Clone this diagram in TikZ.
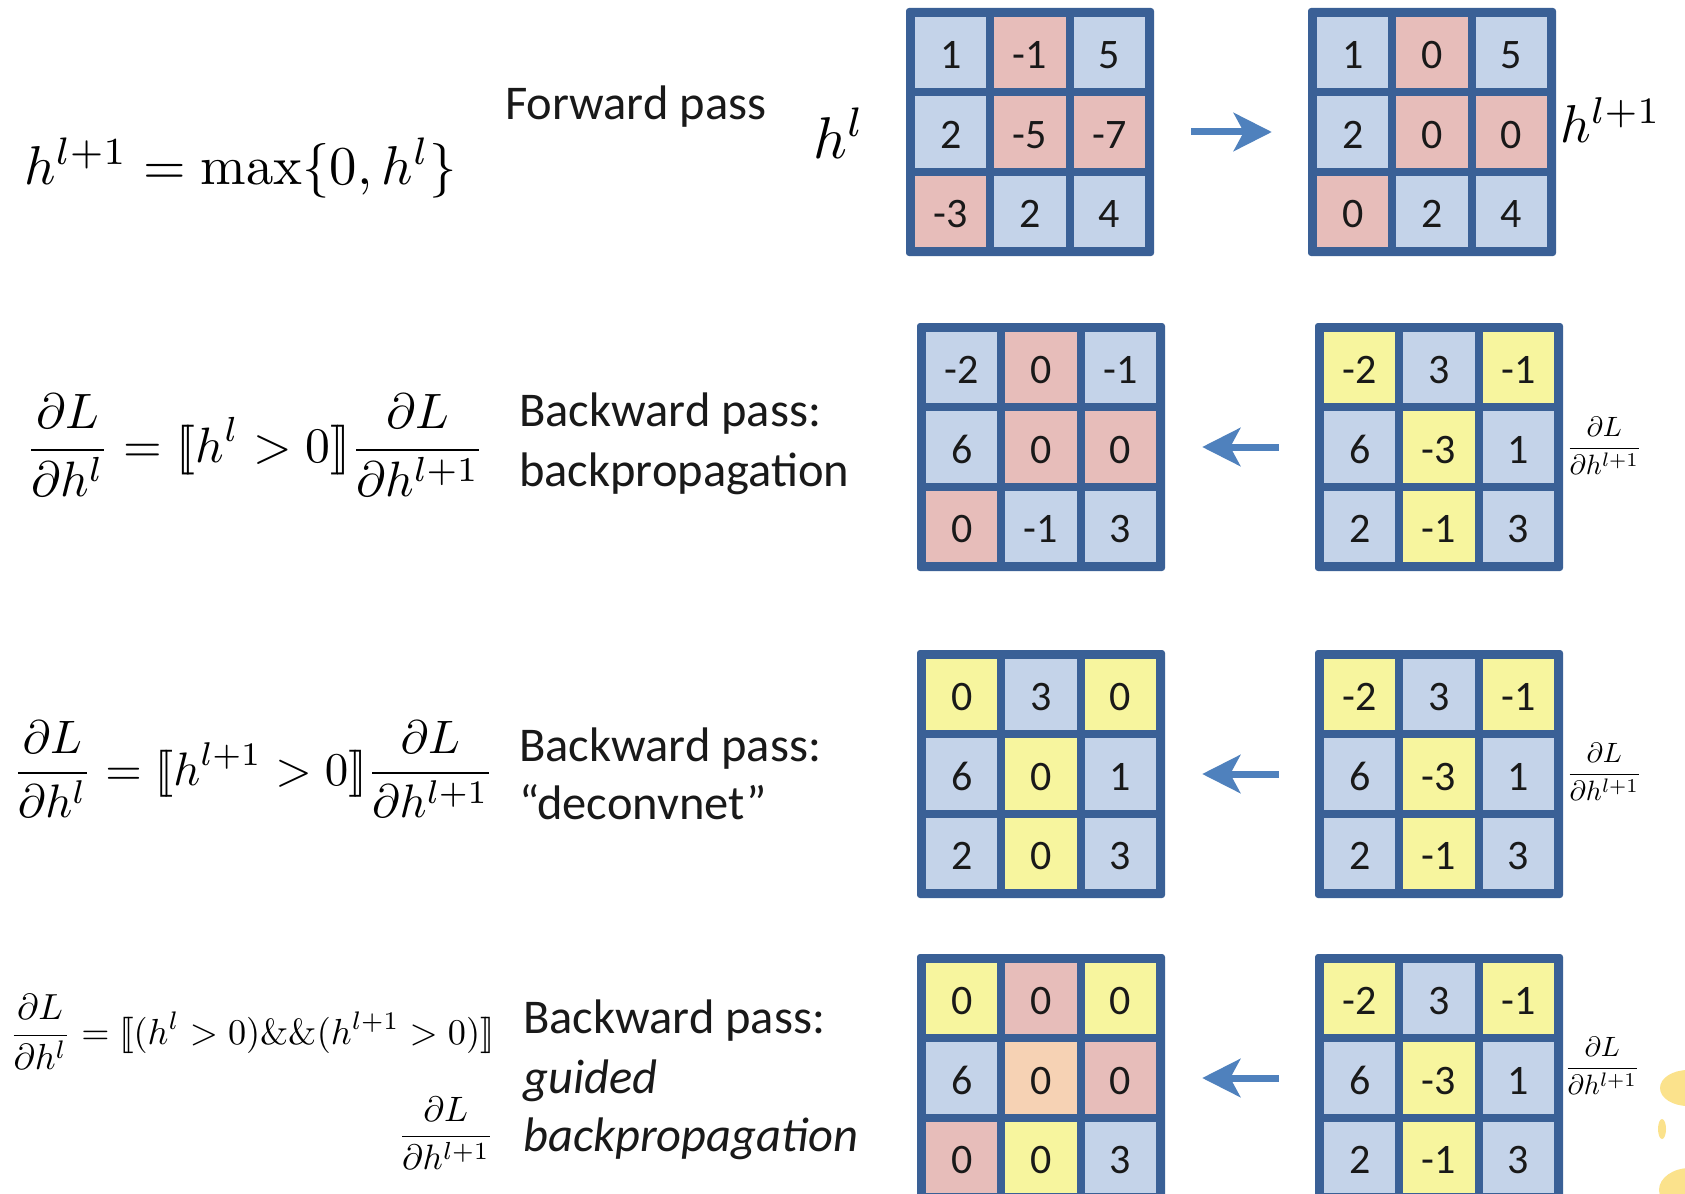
\documentclass[tikz,border=0pt]{standalone}
\usepackage{fontspec}
\newfontfamily\carl{Carlito}
\usetikzlibrary{arrows.meta}
\definecolor{gridblue}{HTML}{3A6096}
\definecolor{cb}{HTML}{C4D3E9}
\definecolor{cp}{HTML}{E7BDBA}
\definecolor{cy}{HTML}{F7F59E}
\definecolor{co}{HTML}{F6D2B4}
\definecolor{arrowblue}{HTML}{4F81BD}
\definecolor{blobyellow}{HTML}{FBE28C}
\tikzset{
  gridbg/.style={fill=gridblue, draw=none, rounded corners=3pt, minimum width=248pt, minimum height=248pt, inner sep=0pt},
  cell/.style={minimum width=71.3pt, minimum height=71.3pt, inner sep=0pt, text height=32.5pt, text depth=0pt, font=\carl\fontsize{42}{42}\selectfont, text=black!90},
  lbl/.style={font=\carl\fontsize{48.5}{59}\selectfont, anchor=base west, inner sep=0pt, text=black!90},
  arr/.style={draw=arrowblue, line width=7pt, -{Stealth[length=38pt,width=38pt,inset=10pt]}},
  mth/.style={inner sep=0pt},
  blob/.style={fill=blobyellow}
}
\newcommand\drawgrid[4]{%
  \node[gridbg] (#1) at (#2+124,#3+124) {};
  \foreach \col/\val [count=\i from 0] in {#4}{%
    \pgfmathtruncatemacro\rr{floor(\i/3)}%
    \pgfmathtruncatemacro\cc{mod(\i,3)}%
    \node[cell,fill=\col] (#1-\i) at ({#2+44.65+\cc*79.3},{#3+44.65+\rr*79.3}) {\val};
  }}
\begin{document}
\begin{tikzpicture}[x=1pt,y=-1pt]
\useasboundingbox (0,0) rectangle (1685,1193);
\clip (0,0) rectangle (1685,1193);
\fill[white] (0,0) rectangle (1685,1193);

% grids
\drawgrid{A}{906}{8}{cb/1,cp/-1,cb/5,cb/2,cp/-5,cp/-7,cp/-3,cb/2,cb/4}
\drawgrid{B}{1308}{8}{cb/1,cp/0,cb/5,cb/2,cp/0,cp/0,cp/0,cb/2,cb/4}
\drawgrid{C}{917}{323}{cb/-2,cp/0,cb/-1,cb/6,cp/0,cp/0,cp/0,cb/-1,cb/3}
\drawgrid{D}{1315}{323}{cy/-2,cb/3,cy/-1,cb/6,cy/-3,cb/1,cb/2,cy/-1,cb/3}
\drawgrid{E}{917}{650}{cy/0,cb/3,cy/0,cb/6,cy/0,cb/1,cb/2,cy/0,cb/3}
\drawgrid{F}{1315}{650}{cy/-2,cb/3,cy/-1,cb/6,cy/-3,cb/1,cb/2,cy/-1,cb/3}
\drawgrid{G}{917}{954}{cy/0,cp/0,cy/0,cb/6,co/0,cp/0,cp/0,cy/0,cb/3}
\drawgrid{H}{1315}{954}{cy/-2,cb/3,cy/-1,cb/6,cy/-3,cb/1,cb/2,cy/-1,cb/3}

% arrows
\draw[arr, shorten <=37pt, shorten >=36pt] (A) -- (B);
\draw[arr, shorten <=36pt, shorten >=37pt] (D) -- (C);
\draw[arr, shorten <=36pt, shorten >=37pt] (F) -- (E);
\draw[arr, shorten <=36pt, shorten >=37pt] (H) -- (G);

% formulas
\node[mth, anchor=west] (f1) at (24,168) {\resizebox{433pt}{!}{$h^{l+1} = \max\{0, h^l\}$}};
\node[mth, anchor=west] (f2) at (25,445) {\resizebox{460pt}{!}{$\displaystyle\frac{\partial L}{\partial h^l} = [\![ h^l > 0 ]\!] \frac{\partial L}{\partial h^{l+1}}$}};
\node[mth, anchor=west] (f3) at (12,769) {\resizebox{482pt}{!}{$\displaystyle\frac{\partial L}{\partial h^l} = [\![ h^{l+1} > 0 ]\!] \frac{\partial L}{\partial h^{l+1}}$}};
\node[mth, anchor=west] (f4) at (9,1032) {\resizebox{485pt}{!}{$\displaystyle\frac{\partial L}{\partial h^l} = [\![ (h^l > 0) \&\& (h^{l+1} > 0) ]\!]$}};
\node[mth, anchor=east] (f4b) at (494,1133) {\resizebox{96pt}{!}{$\displaystyle\frac{\partial L}{\partial h^{l+1}}$}};

% grid labels
\node[mth] (hl) at (839,133) {\resizebox{52pt}{!}{$h^l$}};
\node[mth, anchor=west] (hl1) at (1560,120) {\resizebox{101pt}{!}{$h^{l+1}$}};
\node[mth, anchor=west] (g2) at (1566,446) {\resizebox{76pt}{!}{$\displaystyle\frac{\partial L}{\partial h^{l+1}}$}};
\node[mth, anchor=west] (g3) at (1566,772) {\resizebox{76pt}{!}{$\displaystyle\frac{\partial L}{\partial h^{l+1}}$}};
\node[mth, anchor=west] (g4) at (1564,1066) {\resizebox{76pt}{!}{$\displaystyle\frac{\partial L}{\partial h^{l+1}}$}};

% text labels
\node[lbl] (fw) at (505,120) {Forward pass};
\node[lbl] (b2a) at (519,426) {Backward pass:};
\node[lbl] (b2b) at (519,486) {backpropagation};
\node[lbl] (b3a) at (519,761) {Backward pass:};
\node[lbl] (b3b) at (519,819) {“deconvnet”};
\node[lbl] (b4a) at (523,1033) {Backward pass:};
\node[lbl, font=\carl\itshape\fontsize{48.5}{59}\selectfont] (b4b) at (523,1093) {guided};
\node[lbl, font=\carl\itshape\fontsize{48.5}{59}\selectfont] (b4c) at (523,1151) {backpropagation};

% yellow blobs at the right edge
\fill[blob] (1688,1088) ellipse [x radius=28pt, y radius=18pt];
\fill[blob] (1662,1129) ellipse [x radius=4pt, y radius=10pt];
\fill[blob] (1690,1190) ellipse [x radius=31pt, y radius=22pt];
\end{tikzpicture}
\end{document}
